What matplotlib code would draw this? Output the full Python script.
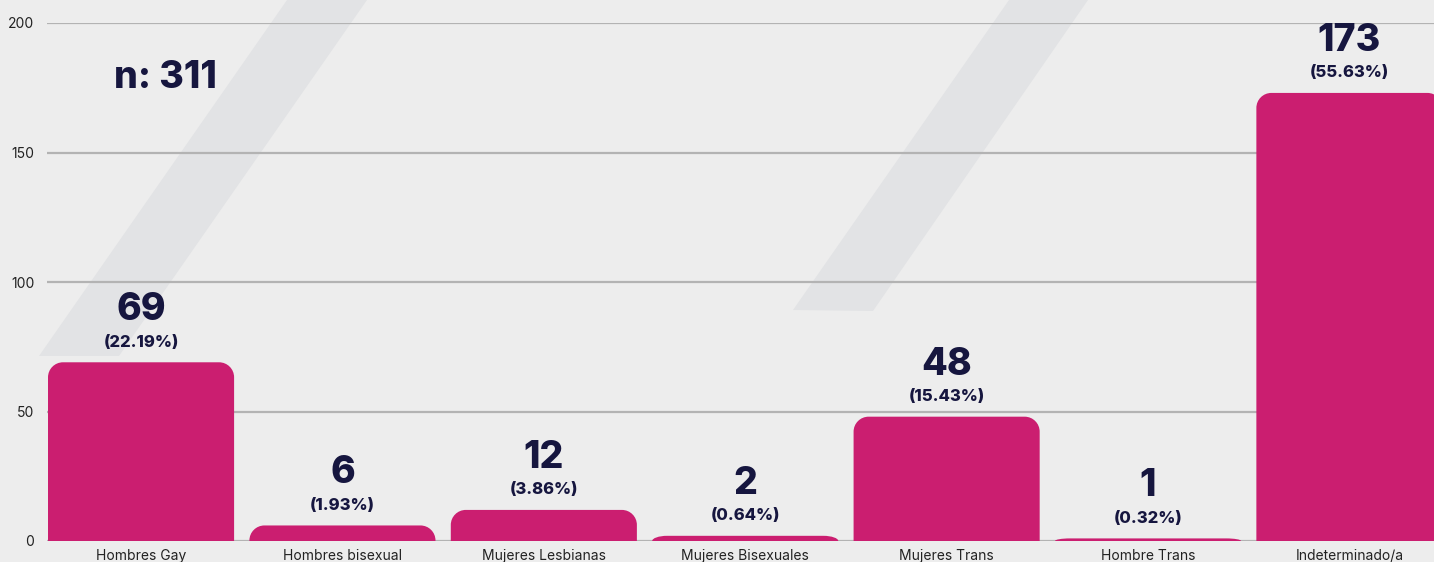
import matplotlib.pyplot as plt
import numpy as np
from matplotlib.patches import PathPatch, Polygon
from matplotlib.path import Path

categories = ['Hombres Gay', 'Hombres bisexual', 'Mujeres Lesbianas',
              'Mujeres Bisexuales', 'Mujeres Trans', 'Hombre Trans',
              'Indeterminado/a']
counts = [69, 6, 12, 2, 48, 1, 173]
percents = ['22.19%', '1.93%', '3.86%', '0.64%', '15.43%', '0.32%', '55.63%']
total_label = 'n: 311'
yticks = [0, 50, 100, 150, 200]

BG = '#ededed'
BAR = '#cb1e70'
NAVY = '#16163f'
STRIPE = '#e2e3e5'
GRID = '#b3b3b3'

W, H = 1434, 562
NUMFONT = 'Inter'
TXTFONT = 'Inter'


def rounded_top_bar(x0, width, height, rx, ry):
    """Path of a bar with rounded top corners (data coords)."""
    ry = min(ry, height)
    k = 0.5523
    verts = [(x0, 0), (x0, height - ry),
             (x0, height - ry + k * ry), (x0 + rx - k * rx, height), (x0 + rx, height),
             (x0 + width - rx, height),
             (x0 + width - rx + k * rx, height), (x0 + width, height - ry + k * ry),
             (x0 + width, height - ry),
             (x0 + width, 0), (x0, 0)]
    codes = [Path.MOVETO, Path.LINETO,
             Path.CURVE4, Path.CURVE4, Path.CURVE4,
             Path.LINETO,
             Path.CURVE4, Path.CURVE4, Path.CURVE4,
             Path.LINETO, Path.CLOSEPOLY]
    return Path(verts, codes)


fig = plt.figure(figsize=(W / 100, H / 100), dpi=100, facecolor=BG)
ax = fig.add_axes([47 / W, 21 / H, 1 - 47 / W, (541 - 23) / H])
ax.set_facecolor('none')

# decorative diagonal stripes (pixel positions of the background art)
for pts in ([(287, 0), (367, 0), (119, 356), (39, 356)],
            [(1009, 0), (1088, 0), (873, 311), (793, 310)]):
    fpts = [(x / W, 1 - y / H) for x, y in pts]
    fig.patches.append(Polygon(fpts, closed=True, transform=fig.transFigure,
                               facecolor=STRIPE, edgecolor='none', zorder=-1))

x = np.arange(len(categories))
ax.set_xlim(-0.467, 6.42)
ax.set_ylim(0, 200)

bar_w = 0.924
rx = 15 / 201.4
ry = 15 / 2.59
for xi, c in zip(x, counts):
    p = rounded_top_bar(xi - bar_w / 2, bar_w, c, rx, ry)
    ax.add_patch(PathPatch(p, facecolor=BAR, edgecolor='none', zorder=3))

for xi, c, pct in zip(x, counts, percents):
    ax.annotate(str(c), (xi, c), xytext=(0, 37.5), textcoords='offset points',
                ha='center', va='center', fontsize=27, fontweight='heavy',
                family=NUMFONT, color=NAVY, zorder=4)
    ax.annotate('(' + pct + ')', (xi, c), xytext=(0, 14.5), textcoords='offset points',
                ha='center', va='center', fontsize=12, fontweight='heavy',
                family=NUMFONT, color=NAVY, zorder=4)

fig.text(165 / W, 1 - 78 / H, total_label, ha='center', va='center',
         fontsize=27, fontweight='heavy', family=NUMFONT, color=NAVY)

ax.set_yticks(yticks)
ax.set_xticks(x)
ax.set_xticklabels(categories)
ax.tick_params(axis='both', length=0, labelsize=10, labelcolor='#222222')
ax.tick_params(axis='y', pad=9)
ax.tick_params(axis='x', pad=5.5)
for lab in ax.get_xticklabels() + ax.get_yticklabels():
    lab.set_family(TXTFONT)

ax.yaxis.grid(True, color=GRID, linewidth=1.6, zorder=0)
ax.set_axisbelow(True)
for s in ax.spines.values():
    s.set_visible(False)

fig.savefig('out.png', dpi=100, facecolor=BG)
